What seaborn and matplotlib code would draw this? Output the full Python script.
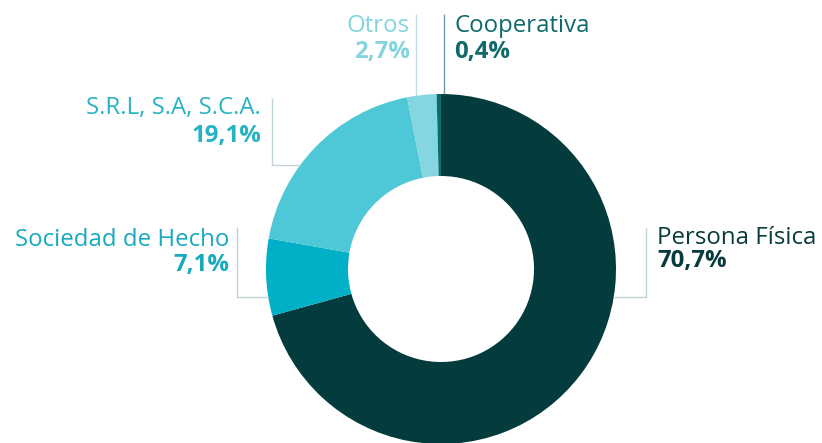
import seaborn as sns
import matplotlib.pyplot as plt

# Data
categories = ["Persona Física", "Sociedad de Hecho", "S.R.L, S.A, S.C.A.", "Otros", "Cooperativa"]
shares = [70.7, 7.1, 19.1, 2.7, 0.4]
share_labels = ["70,7%", "7,1%", "19,1%", "2,7%", "0,4%"]

slice_colors = ["#043b3c", "#00b0c7", "#4ec7d6", "#84d6e1", "#0b6c6e"]
text_colors = ["#083a3c", "#17a9bf", "#27b3c4", "#84d3dd", "#0e6a6b"]

W, H = 822, 443
sns.set_theme(style="white")
plt.rcParams["font.family"] = ["Open Sans", "DejaVu Sans"]

fig = plt.figure(figsize=(W / 100, H / 100), dpi=100)
ax = fig.add_axes([0, 0, 1, 1])

cx, cy, R = 441, H - 269, 175
ax.pie(shares, colors=slice_colors, startangle=90, counterclock=False,
       center=(cx, cy), radius=R,
       wedgeprops=dict(width=R - 93, linewidth=0))
ax.set_xlim(0, W)
ax.set_ylim(0, H)
ax.set_aspect("auto")
ax.axis("off")

# label layout in image pixels: (x, label baseline, pct baseline, ha)
layout = {
    "Persona Física": (657, 244, 267, "left"),
    "Sociedad de Hecho": (229, 246, 271, "right"),
    "S.R.L, S.A, S.C.A.": (261, 114, 142, "right"),
    "Otros": (410, 32, 58, "right"),
    "Cooperativa": (454, 32, 58, "left"),
}
fs = 17.3
for cat, pct, col in zip(categories, share_labels, text_colors):
    x, yl, yp, ha = layout[cat]
    ax.text(x, H - yl, cat, color=col, fontsize=fs, ha=ha, va="baseline")
    ax.text(x, H - yp, pct, color=col, fontsize=fs, ha=ha, va="baseline",
            fontweight="bold")

# leader lines
lc = "#bfd2d6"
lw = 1.0
def leader(xs, ys, color=lc):
    ax.plot(xs, [H - y for y in ys], color=color, lw=lw, solid_capstyle="butt")

leader([646, 646, 614], [228, 297, 297])
leader([237, 237, 268], [227, 297, 297])
leader([272, 272, 300], [98, 165, 165])
leader([416, 416], [14, 96], color="#b9dfe5")
leader([444, 444], [14, 94], color="#6e9c9e")

fig.savefig("out.png", dpi=100)
